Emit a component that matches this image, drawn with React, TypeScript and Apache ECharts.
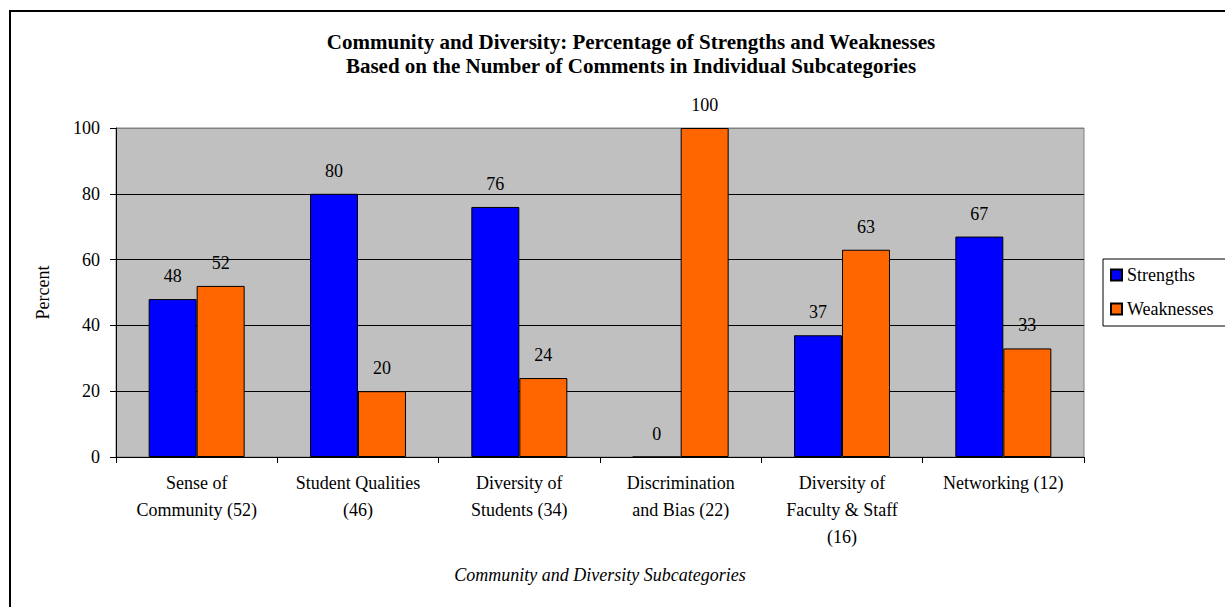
import React, { useEffect, useRef } from "react";
import * as echarts from "echarts";

const categories = [
  "Sense of\nCommunity (52)",
  "Student Qualities\n(46)",
  "Diversity of\nStudents (34)",
  "Discrimination\nand Bias (22)",
  "Diversity of\nFaculty & Staff\n(16)",
  "Networking (12)",
];
const strengths = [48, 80, 76, 0, 37, 67];
const weaknesses = [52, 20, 24, 100, 63, 33];
const yTicks = { min: 0, max: 100, interval: 20 };

const FONT = "Liberation Serif";
const FS = 18;

export default function App() {
  const ref = useRef<HTMLDivElement>(null);
  useEffect(() => {
    document.body.style.margin = "0";
    const chart = echarts.init(ref.current!, null, { renderer: "svg" });
    const labelStyle = {
      show: true,
      position: "top",
      distance: 14,
      fontFamily: FONT,
      fontSize: FS,
      color: "#000",
    };
    chart.setOption({
      animation: false,
      backgroundColor: "#fff",
      title: {
        text: "Community and Diversity: Percentage of Strengths and Weaknesses\nBased on the Number of Comments in Individual Subcategories",
        left: 626,
        top: 25,
        textAlign: "center",
        textStyle: {
          fontFamily: FONT,
          fontSize: 21,
          fontWeight: "bold",
          color: "#000",
          lineHeight: 24,
        },
      },
      graphic: [
        {
          type: "rect",
          shape: { x: 10, y: 11, width: 1240, height: 620 },
          style: { fill: "none", stroke: "#000", lineWidth: 2 },
          silent: true,
          z: 100,
        },
      ],
      legend: {
        orient: "vertical",
        left: 1103,
        top: 259,
        icon: "rect",
        itemWidth: 11,
        itemHeight: 11,
        itemGap: 16,
        padding: [7, 80, 8, 7],
        borderColor: "#000",
        borderWidth: 1,
        backgroundColor: "#fff",
        textStyle: { fontFamily: FONT, fontSize: FS, color: "#000" },
        data: ["Strengths", "Weaknesses"],
      },
      grid: {
        left: 116,
        top: 128,
        right: 141,
        bottom: 150,
        show: true,
        backgroundColor: "#C0C0C0",
        borderColor: "#808080",
        borderWidth: 1,
      },
      xAxis: {
        type: "category",
        data: categories,
        name: "Community and Diversity Subcategories",
        nameLocation: "middle",
        nameGap: 109,
        nameTextStyle: {
          fontFamily: FONT,
          fontSize: FS,
          fontStyle: "italic",
          color: "#000",
        },
        axisLine: { show: true, lineStyle: { color: "#000", width: 1 } },
        axisTick: { show: true, length: 6, interval: 0, lineStyle: { color: "#000" } },
        axisLabel: {
          interval: 0,
          margin: 12,
          fontFamily: FONT,
          fontSize: FS,
          lineHeight: 27,
          color: "#000",
        },
      },
      yAxis: {
        type: "value",
        min: yTicks.min,
        max: yTicks.max,
        interval: yTicks.interval,
        name: "Percent",
        nameLocation: "middle",
        nameGap: 64,
        nameRotate: 90,
        nameTextStyle: { fontFamily: FONT, fontSize: FS, color: "#000" },
        axisLine: { show: true, lineStyle: { color: "#000", width: 1 } },
        axisTick: { show: true, length: 6, lineStyle: { color: "#000" } },
        axisLabel: { margin: 16, fontFamily: FONT, fontSize: FS, color: "#000" },
        splitLine: {
          show: true,
          lineStyle: {
            color: ["#000", "#000", "#000", "#000", "#000", "#808080"],
            width: 1,
          },
        },
      },
      series: [
        {
          name: "Strengths",
          type: "bar",
          data: strengths,
          barGap: "0%",
          barCategoryGap: "40.5%",
          itemStyle: { color: "#0000FF", borderColor: "#000", borderWidth: 1 },
          label: labelStyle,
        },
        {
          name: "Weaknesses",
          type: "bar",
          data: weaknesses,
          barGap: "0%",
          barCategoryGap: "40.5%",
          itemStyle: { color: "#FF6600", borderColor: "#000", borderWidth: 1 },
          label: labelStyle,
        },
      ],
    });
    return () => chart.dispose();
  }, []);
  return (
    <div
      ref={ref}
      style={{ position: "absolute", left: 0, top: 0, width: 1225, height: 607 }}
    />
  );
}
